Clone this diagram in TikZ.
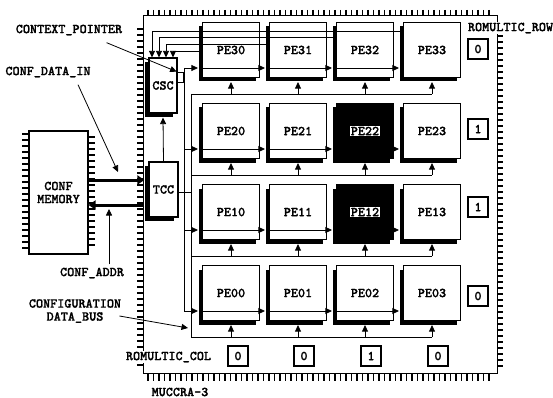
\documentclass[tikz,border=0pt]{standalone}
\usepackage{fontspec}
\newfontfamily\courfont{lmmonolt10-bold.otf}[FakeBold=1.2]
\usetikzlibrary{arrows.meta,calc,shadows}
\setlength{\fboxsep}{0.6pt}
\begin{document}
\begin{tikzpicture}[x=1pt,y=-1pt,
  font=\fontsize{13.5}{13}\selectfont\courfont,
  line width=0.8pt,
  arr/.style={-{Triangle[length=6.5pt,width=6pt]}},
  big/.style={line width=3pt,-{Triangle[length=7pt,width=9pt]}},
  sh/.style={drop shadow={shadow xshift=-4pt,shadow yshift=-4pt,fill=black,opacity=1}},
  pe/.style={draw,line width=1.2pt,fill=white,minimum width=57pt,minimum height=55pt,inner sep=0pt,sh},
  blk/.style={pe,fill=black},
  ctl/.style={draw,line width=1.2pt,fill=white,minimum width=28pt,minimum height=55pt,inner sep=0pt,sh},
  rbox/.style={draw,line width=1.1pt,fill=white,minimum size=20pt,inner sep=0pt},
  lbl/.style={inner sep=0pt},
  tick/.style={line width=1.1pt}
]
\useasboundingbox (0,0) rectangle (553,398);

% chip outline and pins
\draw[line width=1pt] (143,16) rectangle (497,373);
\foreach \x in {148,153.5,...,493} {
  \draw[tick] (\x,10) -- (\x,16);
  \draw[tick] (\x,373) -- (\x,381);
}
\foreach \y in {29,35,...,368} \draw[tick] (137,\y) -- (143,\y);
\foreach \y in {36,42,...,368} \draw[tick] (497,\y) -- (503,\y);

% configuration memory
\node[draw,line width=1.1pt,minimum width=59pt,minimum height=123pt,inner sep=0pt,align=center]
  (mem) at (58.5,192.5) {CONF\\MEMORY};
\foreach \y in {134,140,...,250} \draw[tick] (22,\y) -- (29,\y);
\foreach \y in {137,143,...,250} \draw[tick] (88,\y) -- (95,\y);

% PE array
\node[pe]  (p30) at (231,50)  {PE30};
\node[pe]  (p31) at (298,50)  {PE31};
\node[pe]  (p32) at (365,50)  {PE32};
\node[pe]  (p33) at (432,50)  {PE33};
\node[pe]  (p20) at (231,131) {PE20};
\node[pe]  (p21) at (298,131) {PE21};
\node[blk] (p22) at (365,131) {\colorbox{white}{PE22}};
\node[pe]  (p23) at (432,131) {PE23};
\node[pe]  (p10) at (231,212) {PE10};
\node[pe]  (p11) at (298,212) {PE11};
\node[blk] (p12) at (365,212) {\colorbox{white}{PE12}};
\node[pe]  (p13) at (432,212) {PE13};
\node[pe]  (p00) at (231,293) {PE00};
\node[pe]  (p01) at (298,293) {PE01};
\node[pe]  (p02) at (365,293) {PE02};
\node[pe]  (p03) at (432,293) {PE03};

% controllers
\node[ctl] (csc) at (163,85.5) {CSC};
\node[ctl,minimum width=29pt] (tcc) at (163.5,189.5) {TCC};
\node[draw,line width=0.8pt,fill=white,minimum width=6pt,minimum height=10pt,inner sep=0pt] (port) at (180,77) {};
\draw[arr] (tcc.north) -- ($(csc.south)+(0,4)$);

% row data lines
\foreach \r/\y in {0/311,1/230,2/149,3/68} {
  \coordinate (d\r) at (184,\y);
  \draw[arr] (d\r) -- ($(p\r0.west |- d\r)+(-4,0)$);
  \draw[arr] (p\r0.west |- d\r) -- ($(p\r1.west |- d\r)+(-4,0)$);
  \draw[arr] (p\r1.west |- d\r) -- ($(p\r2.west |- d\r)+(-4,0)$);
  \draw[arr] (p\r2.west |- d\r) -- ($(p\r3.west |- d\r)+(-4,0)$);
}
\draw (d3) -- (d0);

% column (upward) buses
\foreach \r/\y in {0/337,1/256,2/175,3/94} {
  \coordinate (u\r) at (191,\y);
  \draw (u\r) -- (p\r3.south |- u\r);
  \foreach \c in {0,1,2,3}
    \draw[arr] (p\r\c.south |- u\r) -- ($(p\r\c.south)+(0,4)$);
}
\draw (u3) -- (u0);
\draw ($(tcc.east)+(0,3)$) -- ($(tcc.east -| u0)+(0,3)$);

% context pointer lines back to CSC
\draw[arr] (p33.west |- 0,31) -| (152,0 |- csc.north);
\draw[arr] (p32.west |- 0,37) -| (159,0 |- csc.north);
\draw[arr] (p31.west |- 0,44) -| (166,0 |- csc.north);
\draw[arr] (p30.west |- 0,51) -| (173,0 |- csc.north);

% memory interface
\draw[big] (mem.east |- 0,180) -- ($(tcc.west |- 0,180)+(-4,0)$);
\draw[big] ($(tcc.west |- 0,205)+(-4,0)$) -- (mem.east |- 0,205);

% ROMULTIC registers
\node[rbox] (rr3) at (478,49)  {0};
\node[rbox] (rr2) at (478,129) {1};
\node[rbox] (rr1) at (478,207) {1};
\node[rbox] (rr0) at (478,296) {0};
\node[rbox] (rc0) at (238,356) {0};
\node[rbox] (rc1) at (304,356) {0};
\node[rbox] (rc2) at (371,356) {1};
\node[rbox] (rc3) at (438,356) {0};

% labels
\node[lbl] (lcp) at (69,30) {CONTEXT\_POINTER};
\draw[arr] ($(lcp.south east)+(-16,7)$) -- (port.north west);
\node[lbl] (ldi) at (48,72) {CONF\_DATA\_IN};
\coordinate (ldie) at (118,172);
\draw[arr] ($(ldi.south)+(30,7)$) -- (ldie);
\node[lbl] (lca) at (92,273) {CONF\_ADDR};
\coordinate (lcae) at (109,209);
\draw[arr] ($(lca.north -| lcae)+(0,-3)$) -- (lcae);
\node[lbl,align=center] (lcb) at (75,311) {CONFIGURATION\\DATA\_BUS};
\coordinate (lcbe) at (188,328);
\draw[arr] ($(lcb.east)+(-2,5)$) -- (lcbe);
\node[lbl,fill=white,inner sep=1pt] (lrr) at (510.5,28) {ROMULTIC\_ROW};
\node[lbl,fill=white,inner sep=1pt] (lrc) at (168.5,357) {ROMULTIC\_COL};
\node[lbl] (lmu) at (180,392) {MUCCRA-3};
\end{tikzpicture}
\end{document}
